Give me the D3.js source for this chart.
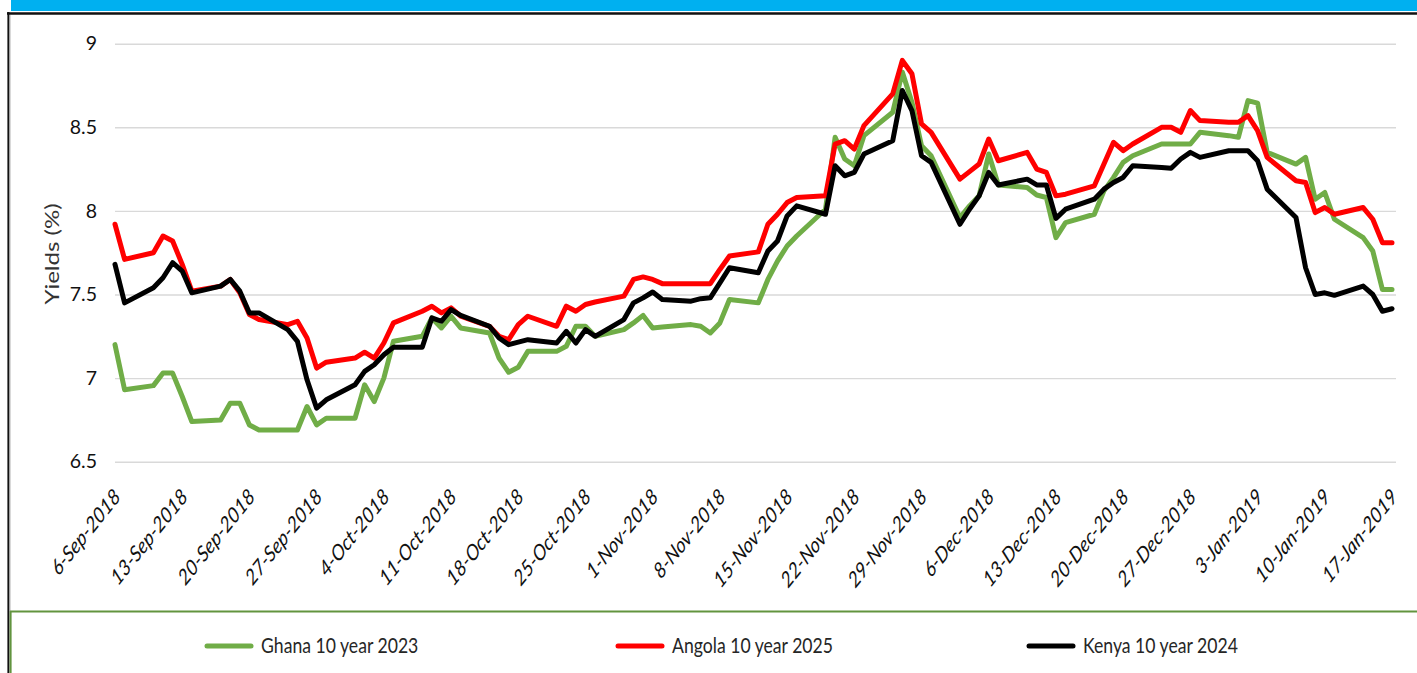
<!DOCTYPE html>
<html>
<head>
<meta charset="utf-8">
<script src="https://cdn.jsdelivr.net/npm/d3@7"></script>
<style>
  html, body { margin: 0; padding: 0; background: #fff; }
  svg { display: block; }
  text { font-family: Lato, "Open Sans", sans-serif; }
</style>
</head>
<body>
<svg id="chart" width="1417" height="673"></svg>
<script>
// business days plotted (Thu 6-Sep-2018 .. Thu 17-Jan-2019)
var dates = [
  "2018-09-06","2018-09-07","2018-09-10","2018-09-11","2018-09-12","2018-09-13","2018-09-14",
  "2018-09-17","2018-09-18","2018-09-19","2018-09-20","2018-09-21","2018-09-24","2018-09-25",
  "2018-09-26","2018-09-27","2018-09-28",
  "2018-10-01","2018-10-02","2018-10-03","2018-10-04","2018-10-05","2018-10-08","2018-10-09",
  "2018-10-10","2018-10-11","2018-10-12","2018-10-15","2018-10-16","2018-10-17","2018-10-18",
  "2018-10-19","2018-10-22","2018-10-23","2018-10-24","2018-10-25","2018-10-26","2018-10-29",
  "2018-10-30","2018-10-31",
  "2018-11-01","2018-11-02","2018-11-05","2018-11-06","2018-11-07","2018-11-08","2018-11-09",
  "2018-11-12","2018-11-13","2018-11-14","2018-11-15","2018-11-16","2018-11-19","2018-11-20",
  "2018-11-21","2018-11-22","2018-11-23","2018-11-26","2018-11-27","2018-11-28","2018-11-29",
  "2018-11-30",
  "2018-12-03","2018-12-04","2018-12-05","2018-12-06","2018-12-07","2018-12-10","2018-12-11",
  "2018-12-12","2018-12-13","2018-12-14","2018-12-17","2018-12-18","2018-12-19","2018-12-20",
  "2018-12-21","2018-12-24","2018-12-25","2018-12-26","2018-12-27","2018-12-28","2018-12-31",
  "2019-01-01","2019-01-02","2019-01-03","2019-01-04","2019-01-07","2019-01-08","2019-01-09",
  "2019-01-10","2019-01-11","2019-01-14","2019-01-15","2019-01-16","2019-01-17"
];

var ghana = [
  7.20, 6.93, 6.955, 7.03, 7.03, 6.89, 6.74, 6.75, 6.85, 6.85, 6.72, 6.69, 6.69, 6.69, 6.83, 6.72, 6.76,
  6.76, 6.96, 6.86, 7.00, 7.22, 7.25, 7.36, 7.30, 7.37, 7.30, 7.27, 7.12, 7.035, 7.065, 7.16, 7.16,
  7.19, 7.31, 7.31, 7.25, 7.29, 7.33, 7.375,
  7.30, 7.305, 7.32, 7.31, 7.27, 7.33, 7.47, 7.45, 7.59, 7.70, 7.79, 7.85, 8.01, 8.44, 8.31, 8.27,
  8.45, 8.59, 8.83, 8.65, 8.39, 8.33,
  7.96, 8.03, 8.09, 8.34, 8.155, 8.14, 8.095, 8.08, 7.84, 7.93, 7.98, 8.12, 8.20, 8.29, 8.33, 8.40,
  8.40, 8.40, 8.40, 8.47, 8.45,
  8.44, 8.66, 8.645, 8.35, 8.28, 8.32, 8.07, 8.11, 7.95, 7.84, 7.76, 7.53, 7.53
];

var angola = [
  7.92, 7.71, 7.75, 7.85, 7.82, 7.68, 7.52, 7.55, 7.59, 7.51, 7.38, 7.35, 7.32, 7.34, 7.24, 7.06, 7.095,
  7.12, 7.155, 7.12, 7.21, 7.33, 7.40, 7.43, 7.39, 7.42, 7.37, 7.31, 7.25, 7.23, 7.32, 7.37, 7.31,
  7.43, 7.40, 7.44, 7.455, 7.49, 7.59, 7.605,
  7.59, 7.565, 7.565, 7.565, 7.565, 7.65, 7.73, 7.755, 7.92, 7.98, 8.05, 8.08, 8.09, 8.40, 8.42, 8.37,
  8.51, 8.70, 8.90, 8.82, 8.52, 8.47,
  8.19, 8.235, 8.28, 8.43, 8.30, 8.35, 8.25, 8.23, 8.09, 8.10, 8.15, 8.28, 8.41, 8.36, 8.40, 8.50,
  8.50, 8.47, 8.60, 8.54, 8.53,
  8.53, 8.57, 8.48, 8.32, 8.18, 8.17, 7.99, 8.02, 7.98, 8.02, 7.95, 7.81, 7.81
];

var kenya = [
  7.68, 7.45, 7.54, 7.60, 7.69, 7.64, 7.51, 7.55, 7.59, 7.52, 7.39, 7.39, 7.29, 7.22, 6.99, 6.82, 6.87,
  6.96, 7.04, 7.08, 7.14, 7.185, 7.185, 7.36, 7.34, 7.41, 7.375, 7.31, 7.24, 7.20, 7.215, 7.23, 7.21,
  7.28, 7.21, 7.29, 7.25, 7.35, 7.45, 7.48,
  7.515, 7.47, 7.46, 7.475, 7.48, 7.57, 7.66, 7.63, 7.76, 7.82, 7.97, 8.03, 7.98, 8.27, 8.21, 8.23,
  8.34, 8.42, 8.72, 8.60, 8.33, 8.29,
  7.92, 8.01, 8.09, 8.23, 8.155, 8.19, 8.155, 8.155, 7.955, 8.01, 8.07, 8.13, 8.17, 8.20, 8.27, 8.26,
  8.255, 8.31, 8.35, 8.32, 8.36,
  8.36, 8.36, 8.30, 8.13, 7.96, 7.66, 7.50, 7.51, 7.495, 7.55, 7.50, 7.40, 7.415
];

var seriesNames = ["Ghana 10 year 2023", "Angola 10 year 2025", "Kenya 10 year 2024"];
var seriesColors = ["#70AD47", "#FF0000", "#000000"];

var xTickLabels = ["6-Sep-2018","13-Sep-2018","20-Sep-2018","27-Sep-2018","4-Oct-2018","11-Oct-2018",
  "18-Oct-2018","25-Oct-2018","1-Nov-2018","8-Nov-2018","15-Nov-2018","22-Nov-2018","29-Nov-2018",
  "6-Dec-2018","13-Dec-2018","20-Dec-2018","27-Dec-2018","3-Jan-2019","10-Jan-2019","17-Jan-2019"];
var yTicks = [6.5, 7, 7.5, 8, 8.5, 9];

var svg = d3.select("#chart");
var W = 1417, H = 673;

var parseISO = d3.timeParse("%Y-%m-%d");
var parseTick = d3.timeParse("%-d-%b-%Y");
var tickDates = xTickLabels.map(parseTick);
var dateObjs = dates.map(parseISO);

var x = d3.scaleTime()
  .domain([tickDates[0], tickDates[tickDates.length - 1]])
  .range([115, 1392]);
var y = d3.scaleLinear()
  .domain([6.5, 9])
  .range([461.7, 43.7]);

// frame
svg.append("rect").attr("x", 11).attr("y", 0).attr("width", W - 11).attr("height", 11)
  .attr("fill", "#00B0F0");
svg.append("line").attr("x1", 7).attr("x2", W).attr("y1", 13.4).attr("y2", 13.4)
  .attr("stroke", "#111").attr("stroke-width", 2.5);
svg.append("line").attr("x1", 8.4).attr("x2", 8.4).attr("y1", 12).attr("y2", H)
  .attr("stroke", "#111").attr("stroke-width", 2);
svg.append("line").attr("x1", 10.5).attr("x2", 10.5).attr("y1", 15).attr("y2", 611)
  .attr("stroke", "#d9d9d9").attr("stroke-width", 1);
svg.append("line").attr("x1", 10).attr("x2", W).attr("y1", 611.6).attr("y2", 611.6)
  .attr("stroke", "#62943f").attr("stroke-width", 2);
svg.append("line").attr("x1", 10.6).attr("x2", 10.6).attr("y1", 611).attr("y2", H)
  .attr("stroke", "#62943f").attr("stroke-width", 2);

// gridlines
var grid = svg.append("g")
  .attr("transform", "translate(115,0)")
  .call(d3.axisLeft(y).tickValues(yTicks).tickSize(-(1396 - 115)).tickFormat(""));
grid.select(".domain").remove();
grid.selectAll("line").attr("stroke", "#d9d9d9").attr("stroke-width", 1.4);

// y axis labels
var yAxis = svg.append("g")
  .attr("transform", "translate(115,0)")
  .call(d3.axisLeft(y).tickValues(yTicks).tickSize(0).tickPadding(18).tickFormat(d3.format("")));
yAxis.select(".domain").remove();
yAxis.selectAll("text")
  .attr("fill", "#111")
  .style("font-size", "19.5px");

svg.append("text")
  .attr("transform", "translate(53,254) rotate(-90) scale(1.3,1)")
  .attr("text-anchor", "middle")
  .attr("dy", "0.35em")
  .attr("fill", "#333")
  .style("font-size", "18.5px")
  .text("Yields (%)");

// x axis labels
var xAxis = svg.append("g")
  .call(d3.axisBottom(x).tickValues(tickDates).tickSize(0)
    .tickFormat(function (d, i) { return xTickLabels[i]; }));
xAxis.select(".domain").remove();
xAxis.selectAll("text")
  .attr("x", 0).attr("y", 0).attr("dy", 0)
  .attr("text-anchor", "end")
  .attr("transform", "translate(6,498) scale(0.8,1) rotate(-45)")
  .attr("fill", "#111")
  .style("font-size", "22px")
  .style("font-style", "italic");

// series lines
var allSeries = [ghana, angola, kenya];
var line = d3.line()
  .x(function (d) { return x(d.date); })
  .y(function (d) { return y(d.v); });

allSeries.forEach(function (vals, s) {
  var pts = vals.map(function (v, i) { return { date: dateObjs[i], v: v }; });
  svg.append("path")
    .datum(pts)
    .attr("d", line)
    .attr("fill", "none")
    .attr("stroke", seriesColors[s])
    .attr("stroke-width", 5)
    .attr("stroke-linejoin", "round")
    .attr("stroke-linecap", "round");
});

// legend
var legendX = [205, 616, 1027];
var legend = svg.append("g");
seriesNames.forEach(function (name, s) {
  var g = legend.append("g").attr("transform", "translate(" + legendX[s] + ",646)");
  g.append("line").attr("x1", 2).attr("x2", 46).attr("y1", 0).attr("y2", 0)
    .attr("stroke", seriesColors[s]).attr("stroke-width", 5).attr("stroke-linecap", "round");
  g.append("text")
    .attr("transform", "translate(56,0) scale(0.86,1)")
    .attr("dy", "0.36em")
    .attr("fill", "#262626")
    .style("font-size", "20.5px")
    .text(name);
});
</script>
</body>
</html>
